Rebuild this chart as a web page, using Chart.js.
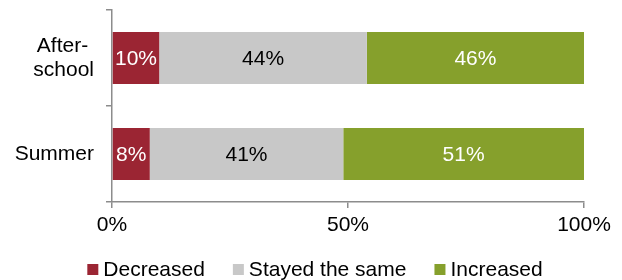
<!DOCTYPE html>
<html>
<head>
<meta charset="utf-8">
<script src="https://cdn.jsdelivr.net/npm/chart.js@4"></script>
<style>
html,body{margin:0;padding:0;background:#fff;}
#wrap{width:622px;height:280px;position:relative;}
</style>
</head>
<body>
<div id="wrap"><canvas id="c" width="622" height="280"></canvas></div>
<script>
const categories = [["After- ", "school"], "Summer"];
const decreased = [10, 8];
const stayedSame = [44, 41];
const increased = [46, 51];
const xTicks = [0, 50, 100];
const seriesNames = ["Decreased", "Stayed the same", "Increased"];
const seriesColors = ["#9B2533", "#C8C8C8", "#86A02C"];
const labelColors = ["#ffffff", "#000000", "#ffffff"];

const FONT = "'Liberation Sans', Arial, sans-serif";
const FS = 21;
const AXIS = "#8C8C8C";

const valueLabels = {
  id: 'valueLabels',
  afterDatasetsDraw(chart) {
    const ctx = chart.ctx;
    ctx.save();
    ctx.font = FS + "px " + FONT;
    ctx.textAlign = 'center';
    ctx.textBaseline = 'middle';
    chart.data.datasets.forEach((ds, i) => {
      const meta = chart.getDatasetMeta(i);
      meta.data.forEach((bar, j) => {
        const cx = (bar.x + bar.base) / 2;
        ctx.fillStyle = labelColors[i];
        ctx.fillText(ds.data[j] + '%', cx, bar.y + 1);
      });
    });
    ctx.restore();
  }
};

const customLegend = {
  id: 'customLegend',
  afterDraw(chart) {
    const ctx = chart.ctx;
    ctx.save();
    ctx.font = FS + "px " + FONT;
    ctx.textBaseline = 'middle';
    ctx.textAlign = 'left';
    const box = 11, gapText = 5, gapItem = 28;
    const widths = seriesNames.map(n => ctx.measureText(n).width);
    let total = 0;
    widths.forEach((w, i) => { total += box + gapText + w + (i < widths.length - 1 ? gapItem : 0); });
    let x = 315 - total / 2;
    const y = 270;
    seriesNames.forEach((n, i) => {
      ctx.fillStyle = seriesColors[i];
      ctx.fillRect(x, y - box / 2 - 0.5, box, box);
      ctx.fillStyle = '#000';
      ctx.fillText(n, x + box + gapText, y);
      x += box + gapText + widths[i] + gapItem;
    });
    ctx.restore();
  }
};

new Chart(document.getElementById('c'), {
  type: 'bar',
  data: {
    labels: categories,
    datasets: [
      { label: seriesNames[0], data: decreased, backgroundColor: seriesColors[0] },
      { label: seriesNames[1], data: stayedSame, backgroundColor: seriesColors[1] },
      { label: seriesNames[2], data: increased, backgroundColor: seriesColors[2] }
    ]
  },
  options: {
    indexAxis: 'y',
    responsive: false,
    animation: false,
    devicePixelRatio: 1,
    categoryPercentage: 1,
    barPercentage: 0.54,
    layout: { padding: { top: 10, right: 38, left: 0, bottom: 0 } },
    plugins: { legend: { display: false }, tooltip: { enabled: false } },
    scales: {
      x: {
        stacked: true,
        min: 0, max: 100,
        afterBuildTicks(scale) { scale.ticks = xTicks.map(v => ({ value: v })); },
        afterFit(scale) { scale.height = 78; scale.paddingLeft = 0; scale.paddingRight = 0; },
        grid: { drawOnChartArea: false, drawTicks: true, tickLength: 6, color: AXIS, lineWidth: 1.5 },
        border: { display: true, color: AXIS, width: 1.5 },
        ticks: { color: '#000', font: { size: FS, family: FONT }, padding: 5, callback: v => v + '%', maxRotation: 0 }
      },
      y: {
        stacked: true,
        afterFit(scale) { scale.width = 112; scale.paddingTop = 0; scale.paddingBottom = 0; },
        grid: { drawOnChartArea: false, drawTicks: true, tickLength: 6, color: AXIS, lineWidth: 1.5, offset: true },
        border: { display: true, color: AXIS, width: 1.5 },
        ticks: { color: '#000', font: { size: FS, family: FONT, lineHeight: 1.15 }, padding: 12 }
      }
    }
  },
  plugins: [valueLabels, customLegend]
});
</script>
</body>
</html>
